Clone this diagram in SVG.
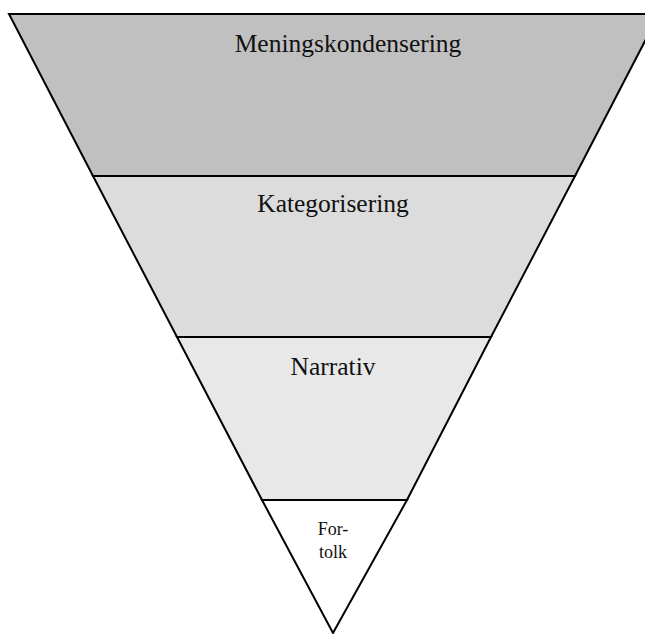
<svg xmlns="http://www.w3.org/2000/svg" width="645" height="634" viewBox="0 0 645 634">
<style>
.layer{stroke:#000;stroke-width:2;stroke-linejoin:miter}
.lbl{font-family:"Liberation Serif",serif;fill:#111;text-anchor:middle}
</style>
<rect width="645" height="634" fill="#fff"/>
<g id="layer1">
<polygon class="layer" points="9,14 659,14 575,176 93,176" fill="#c0c0c0"/>
<text class="lbl" x="348" y="52" font-size="25.5">Meningskondensering</text>
</g>
<g id="layer2">
<polygon class="layer" points="93,176 575,176 491,337 177,337" fill="#dcdcdc"/>
<text class="lbl" x="333" y="212" font-size="25.5">Kategorisering</text>
</g>
<g id="layer3">
<polygon class="layer" points="177,337 491,337 407,500 262,500" fill="#e8e8e8"/>
<text class="lbl" x="333" y="375" font-size="25.5">Narrativ</text>
</g>
<g id="layer4">
<polygon class="layer" points="262,500 407,500 333,633" fill="#fff"/>
<text class="lbl" x="333" y="535" font-size="18">For-</text>
<text class="lbl" x="333" y="558" font-size="18">tolk</text>
</g>
</svg>
